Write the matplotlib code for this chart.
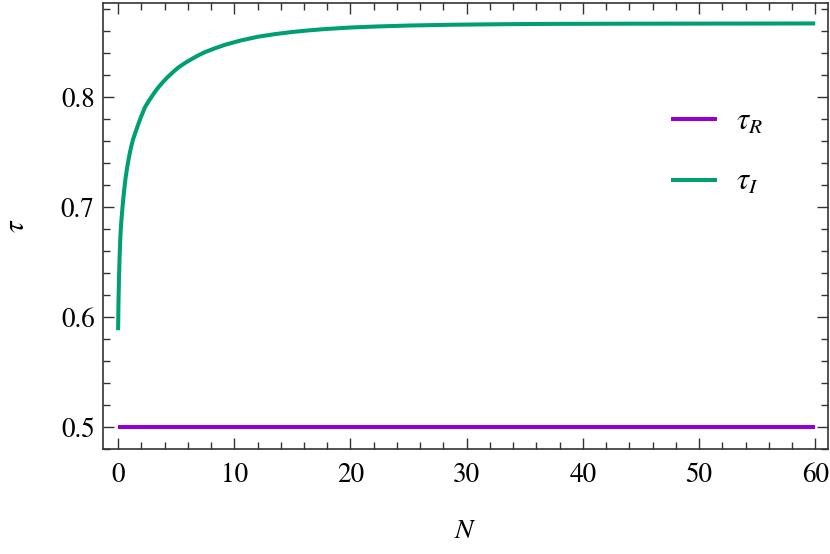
import numpy as np
import matplotlib.pyplot as plt
from matplotlib.ticker import MultipleLocator

plt.rcParams['font.family'] = ['STIXGeneral', 'DejaVu Sans']
plt.rcParams['mathtext.fontset'] = 'stix'

# values
N_R = [0, 60]
tau_R = [0.5, 0.5]

N_I = [0, 0.03, 0.07, 0.12, 0.17, 0.23, 0.3, 0.38, 0.46, 0.55, 0.65, 0.77, 0.89,
       1.02, 1.15, 1.3, 1.46, 1.75, 2.0, 2.32, 2.6, 2.9, 3.2, 3.47, 3.9, 4.33,
       4.75, 5.19, 5.75, 6.34, 6.9, 7.49, 8.3, 9.21, 10.5, 12.07, 13.5, 14.95,
       16.3, 17.8, 20.0, 22.1, 25.0, 28.6, 33.0, 37.0, 45.0, 60.0]
tau_I = [0.588, 0.612, 0.632, 0.652, 0.667, 0.680, 0.690, 0.700, 0.709, 0.718,
         0.727, 0.7354, 0.7426, 0.7499, 0.7559, 0.7619, 0.7669, 0.7757, 0.7827,
         0.7909, 0.7958, 0.8005, 0.8051, 0.8089, 0.8141, 0.8188, 0.8229, 0.8269,
         0.8309, 0.8346, 0.8379, 0.8409, 0.8442, 0.8475, 0.8513, 0.8549, 0.8572,
         0.8591, 0.8605, 0.8618, 0.8632, 0.8641, 0.8650, 0.8657, 0.8662, 0.8665,
         0.8667, 0.8669]

fig = plt.figure(figsize=(8.3, 5.54), dpi=100)
ax = fig.add_axes([0.1241, 0.1895, 0.8735, 0.8051])

ax.plot(N_R, tau_R, color='#9400d3', lw=2.9, label=r'$\tau_R$', solid_capstyle='butt')
ax.plot(N_I, tau_I, color='#009e73', lw=2.9, label=r'$\tau_I$', solid_capstyle='butt',
        solid_joinstyle='round')

ax.set_xlim(-1.3, 61.1)
ax.set_ylim(0.48, 0.8855)
ax.xaxis.set_major_locator(MultipleLocator(10))
ax.xaxis.set_minor_locator(MultipleLocator(2))
ax.yaxis.set_major_locator(MultipleLocator(0.1))
ax.yaxis.set_minor_locator(MultipleLocator(0.02))

ax.tick_params(which='both', direction='in', top=True, right=True,
               labelsize=19.5, color='#333333', width=1.0)
ax.tick_params(which='major', length=8)
ax.tick_params(which='minor', length=5)
ax.tick_params(axis='x', pad=10)
ax.tick_params(axis='y', pad=6)
for s in ax.spines.values():
    s.set_color('#333333')
    s.set_linewidth(1.2)

ax.set_xlabel(r'$N$', fontsize=20, labelpad=22)
ax.set_ylabel(r'$\tau$', fontsize=21, labelpad=22)

ax.legend(loc='center left', bbox_to_anchor=(0.783, 0.664), frameon=False,
          fontsize=22, borderpad=0, borderaxespad=0, handlelength=1.5,
          handletextpad=0.65, labelspacing=1.05)

fig.savefig('out.png', dpi=100)
